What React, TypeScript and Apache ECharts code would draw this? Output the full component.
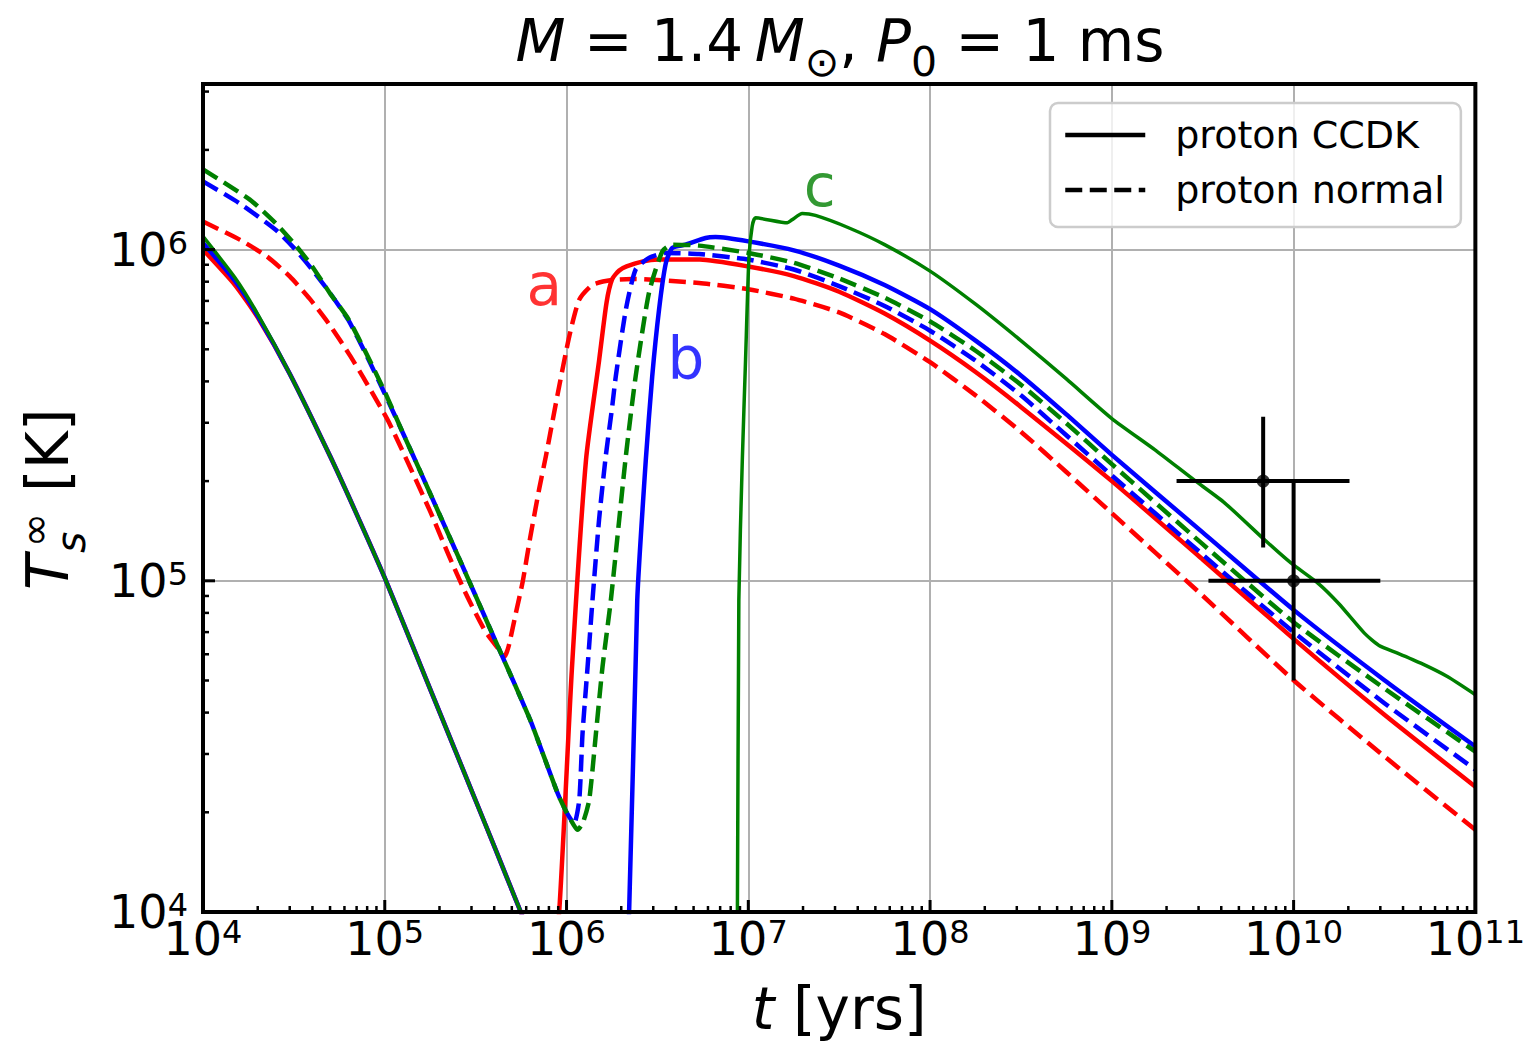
import React, { useEffect, useRef } from 'react';
import * as echarts from 'echarts';

const FONT = 'DejaVu Sans';

// ---------- data (t in years, surface temperature in K) ----------
const redSolidTime = [1e4, 1.5e4, 2e4, 3e4, 5e4, 7e4, 1e5, 1.5e5, 2e5, 3e5, 4e5, 5.6e5, 7e5, 8.3e5, 9.12e5, 1.07e6, 1.28e6, 1.51e6, 1.66e6, 1.78e6, 1.95e6, 2.14e6, 2.6e6, 3.2e6, 5.4e6, 1e7, 1.78e7, 3.16e7, 5.62e7, 1e8, 1.78e8, 3.16e8, 1e9, 3.16e9, 1e10, 3.16e10, 1e11];
const redSolidTemp = [1.0e6, 7.82e5, 6.24e5, 4.22e5, 2.38e5, 1.59e5, 1.02e5, 5.92e4, 4.02e4, 2.33e4, 1.58e4, 1.0e4, 7.4e3, 7.0e3, 1.01e4, 5.4e4, 2.32e5, 4.62e5, 6.92e5, 8.13e5, 8.65e5, 8.9e5, 9.2e5, 9.33e5, 9.33e5, 8.89e5, 8.32e5, 7.46e5, 6.41e5, 5.31e5, 4.27e5, 3.35e5, 2.0e5, 1.16e5, 6.68e4, 3.94e4, 2.39e4];

const redDashedTime = [1e4, 1.6e4, 2.24e4, 3.0e4, 3.86e4, 4.98e4, 6.4e4, 7.6e4, 1.06e5, 1.76e5, 2.24e5, 2.8e5, 3.55e5, 4.28e5, 4.55e5, 4.79e5, 5.25e5, 5.75e5, 6.31e5, 7.08e5, 7.7e5, 8.91e5, 1.035e6, 1.175e6, 1.39e6, 1.78e6, 2.3e6, 5.36e6, 1e7, 1.78e7, 3.16e7, 5.62e7, 1e8, 1.78e8, 3.16e8, 5.62e8, 1e9, 3.16e9, 1e10, 3.16e10, 1e11];
const redDashedTemp = [1.216e6, 1.07e6, 9.55e5, 8.3e5, 7.11e5, 5.92e5, 4.81e5, 4.12e5, 2.99e5, 1.64e5, 1.2e5, 9.12e4, 7.08e4, 6.17e4, 5.9e4, 6.31e4, 7.94e4, 1.0e5, 1.35e5, 1.9e5, 2.38e5, 3.63e5, 5.47e5, 7.06e5, 7.83e5, 8.09e5, 8.15e5, 7.93e5, 7.59e5, 7.11e5, 6.46e5, 5.56e5, 4.57e5, 3.63e5, 2.82e5, 2.13e5, 1.6e5, 9.02e4, 5.01e4, 2.95e4, 1.77e4];

const blueSolidTime = [1e4, 1.5e4, 2e4, 3e4, 5e4, 7e4, 1e5, 1.5e5, 2e5, 3e5, 4e5, 5.6e5, 7e5, 1e6, 2e6, 2.21e6, 2.45e6, 2.73e6, 2.96e6, 3.23e6, 3.52e6, 3.82e6, 4.52e6, 5.82e6, 6.6e6, 1e7, 1.78e7, 3.16e7, 5.62e7, 1e8, 1.78e8, 3.16e8, 5.62e8, 1e9, 3.16e9, 1e10, 3.16e10, 1e11];
const blueSolidTemp = [1.047e6, 8.04e5, 6.31e5, 4.22e5, 2.38e5, 1.59e5, 1.02e5, 5.92e4, 4.02e4, 2.33e4, 1.58e4, 1.0e4, 7.4e3, 5.0e3, 5.6e3, 1.01e4, 8.77e4, 2.32e5, 4.14e5, 6.61e5, 9.12e5, 1.012e6, 1.035e6, 1.084e6, 1.091e6, 1.059e6, 9.95e5, 8.95e5, 7.82e5, 6.61e5, 5.31e5, 4.17e5, 3.18e5, 2.4e5, 1.4e5, 8.17e4, 5.01e4, 3.16e4];

const blueDashedTime = [1e4, 1.585e4, 2.51e4, 3.16e4, 3.98e4, 5.01e4, 6.31e4, 7.94e4, 1e5, 1.26e5, 1.585e5, 2.51e5, 3.98e5, 6.31e5, 8.91e5, 1e6, 1.1e6, 1.175e6, 1.225e6, 1.306e6, 1.39e6, 1.51e6, 1.644e6, 1.778e6, 1.866e6, 2.12e6, 2.4e6, 2.84e6, 3.52e6, 5.36e6, 1e7, 1.78e7, 3.16e7, 5.62e7, 1e8, 1.78e8, 3.16e8, 5.62e8, 1e9, 3.16e9, 1e10, 3.16e10, 1e11];
const blueDashedTemp = [1.607e6, 1.38e6, 1.148e6, 1.012e6, 8.71e5, 7.38e5, 6.12e5, 4.79e5, 3.67e5, 2.79e5, 2.11e5, 1.2e5, 6.76e4, 3.8e4, 2.29e4, 2.0e4, 1.85e4, 2.18e4, 3.47e4, 5.51e4, 8.77e4, 1.53e5, 2.38e5, 3.31e5, 4.14e5, 6.59e5, 8.71e5, 9.44e5, 9.77e5, 9.7e5, 9.33e5, 8.71e5, 7.76e5, 6.76e5, 5.69e5, 4.62e5, 3.63e5, 2.75e5, 2.08e5, 1.2e5, 7.0e4, 4.27e4, 2.69e4];

const greenSolidTime = [1e4, 1.5e4, 2e4, 3e4, 5e4, 7e4, 1e5, 1.5e5, 2e5, 3e5, 4e5, 5.6e5, 7e5, 1e6, 5e6, 8.5e6, 8.71e6, 8.87e6, 9.27e6, 9.66e6, 1.007e7, 1.05e7, 1.096e7, 1.64e7, 1.74e7, 1.98e7, 2.34e7, 3.56e7, 5.62e7, 1e8, 1.78e8, 3.16e8, 5.62e8, 1e9, 1.72e9, 2.82e9, 4.17e9, 6.92e9, 9.7e9, 1.36e10, 1.78e10, 2.45e10, 2.95e10, 3.73e10, 5.01e10, 7.01e10, 1e11];
const greenSolidTemp = [1.096e6, 8.22e5, 6.38e5, 4.22e5, 2.38e5, 1.59e5, 1.02e5, 5.92e4, 4.02e4, 2.33e4, 1.58e4, 1.0e4, 7.4e3, 5.0e3, 4.0e3, 5.0e3, 1.01e4, 8.77e4, 2.32e5, 4.66e5, 9.33e5, 1.175e6, 1.247e6, 1.205e6, 1.23e6, 1.285e6, 1.268e6, 1.164e6, 1.035e6, 8.61e5, 6.84e5, 5.31e5, 4.07e5, 3.09e5, 2.49e5, 2.02e5, 1.72e5, 1.33e5, 1.13e5, 9.84e4, 8.51e4, 6.95e4, 6.38e4, 6.05e4, 5.64e4, 5.14e4, 4.53e4];

const greenDashedTime = [1e4, 1.81e4, 2.51e4, 3.27e4, 3.98e4, 4.98e4, 6.31e4, 7.94e4, 1e5, 1.26e5, 1.585e5, 2.51e5, 3.98e5, 6.31e5, 8.91e5, 1e6, 1.096e6, 1.15e6, 1.23e6, 1.333e6, 1.452e6, 1.578e6, 1.754e6, 2.12e6, 2.4e6, 2.84e6, 3.37e6, 3.82e6, 5.36e6, 1e7, 1.78e7, 3.16e7, 5.62e7, 1e8, 1.78e8, 3.16e8, 5.62e8, 1e9, 3.16e9, 1e10, 3.16e10, 1e11];
const greenDashedTemp = [1.746e6, 1.416e6, 1.202e6, 1.023e6, 8.91e5, 7.4e5, 6.17e5, 4.84e5, 3.72e5, 2.79e5, 2.11e5, 1.2e5, 6.76e4, 3.8e4, 2.29e4, 2.0e4, 1.83e4, 1.77e4, 1.86e4, 2.18e4, 3.47e4, 5.51e4, 8.77e4, 2.38e5, 4.14e5, 7.4e5, 9.89e5, 1.035e6, 1.028e6, 9.77e5, 9.12e5, 8.18e5, 7.16e5, 6.07e5, 4.95e5, 3.91e5, 2.99e5, 2.25e5, 1.29e5, 7.5e4, 4.73e4, 3.05e4];

// observations with error bars
const obsTime = [6.8e9, 1.0e10];
const obsTemp = [2.0e5, 1.0e5];
const obsTimeLow = [2.27e9, 3.4e9];
const obsTimeHigh = [2.03e10, 3.0e10];
const obsTempLow = [1.26e5, 5.0e4];
const obsTempHigh = [3.13e5, 2.0e5];

// curve labels
const noteLabels = ['a', 'b', 'c'];
const noteTime = [7.55e5, 4.54e6, 2.47e7];
const noteTemp = [7.83e5, 4.66e5, 1.56e6];
const noteColors = ['#ff0000', '#0000ff', '#008000'];

// axes
const X_MIN = 1e4;
const X_MAX = 1e11;
const Y_MIN = 1e4;
const Y_MAX = 3.1623e6;
const xDecades = [1e4, 1e5, 1e6, 1e7, 1e8, 1e9, 1e10, 1e11];
const yDecades = [1e4, 1e5, 1e6];
const minorMultipliers = [2, 3, 4, 5, 6, 7, 8, 9];

const legendSolid = 'proton CCDK';
const legendDashed = 'proton normal';

const DASH = [17, 7.5];

function pairs(xs: number[], ys: number[]) {
  return xs.map((x, i) => [x, ys[i]]);
}

function curve(name: string, xs: number[], ys: number[], color: string, dashed: boolean, width: number) {
  return {
    type: 'line',
    name,
    data: pairs(xs, ys),
    symbol: 'none',
    showSymbol: false,
    smooth: 0.2,
    clip: true,
    silent: true,
    legendHoverLink: false,
    z: 2,
    lineStyle: { color, width, type: dashed ? DASH : 'solid', cap: 'butt', join: 'round' },
    itemStyle: { color },
  };
}

function buildTicks() {
  const out: number[][] = [];
  xDecades.forEach((d) => {
    out.push([d, Y_MIN, 1]);
    if (d < X_MAX) minorMultipliers.forEach((m) => out.push([d * m, Y_MIN, 0]));
  });
  yDecades.forEach((d) => {
    out.push([X_MIN, d, 3]);
    minorMultipliers.forEach((m) => {
      if (d * m <= Y_MAX) out.push([X_MIN, d * m, 2]);
    });
  });
  return out;
}

function powLabel(v: number) {
  const e = Math.log10(v);
  const r = Math.round(e);
  return Math.abs(e - r) < 1e-6 ? `{b|10}{e|${r}}` : '';
}

const labelRich = {
  b: { fontSize: 46, lineHeight: 46, verticalAlign: 'bottom', fontFamily: FONT, color: '#000' },
  e: { fontSize: 32, lineHeight: 32, verticalAlign: 'top', padding: [0, 0, 21, 0], fontFamily: FONT, color: '#000' },
};

function buildOption() {
  const series: any[] = [
    curve('a CCDK', redSolidTime, redSolidTemp, '#ff0000', false, 4.5),
    curve('a normal', redDashedTime, redDashedTemp, '#ff0000', true, 4.5),
    curve('b CCDK', blueSolidTime, blueSolidTemp, '#0000ff', false, 4.5),
    curve('b normal', blueDashedTime, blueDashedTemp, '#0000ff', true, 4.5),
    curve('c CCDK', greenSolidTime, greenSolidTemp, '#008000', false, 3.5),
    curve('c normal', greenDashedTime, greenDashedTemp, '#008000', true, 4.5),
    {
      type: 'line', name: legendSolid, data: [], symbol: 'none', showSymbol: false,
      lineStyle: { color: '#000', width: 4.5, type: 'solid' }, itemStyle: { color: '#000' },
    },
    {
      type: 'line', name: legendDashed, data: [], symbol: 'none', showSymbol: false,
      lineStyle: { color: '#000', width: 4.5, type: DASH }, itemStyle: { color: '#000' },
    },
    {
      type: 'custom',
      name: 'errorbars',
      z: 4,
      silent: true,
      encode: { x: 0, y: 1 },
      data: obsTime.map((t, i) => [t, obsTemp[i], obsTimeLow[i], obsTimeHigh[i], obsTempLow[i], obsTempHigh[i]]),
      renderItem: (_p: any, api: any) => {
        const l = api.coord([api.value(2), api.value(1)]);
        const r = api.coord([api.value(3), api.value(1)]);
        const b = api.coord([api.value(0), api.value(4)]);
        const t = api.coord([api.value(0), api.value(5)]);
        return {
          type: 'group',
          children: [
            { type: 'line', shape: { x1: l[0], y1: l[1], x2: r[0], y2: r[1] }, style: { stroke: '#000', lineWidth: 4 } },
            { type: 'line', shape: { x1: b[0], y1: b[1], x2: t[0], y2: t[1] }, style: { stroke: '#000', lineWidth: 4 } },
          ],
        };
      },
    },
    {
      type: 'scatter',
      name: 'obs',
      z: 5,
      silent: true,
      symbol: 'circle',
      symbolSize: 13,
      itemStyle: { color: '#000' },
      data: pairs(obsTime, obsTemp),
    },
    {
      type: 'scatter',
      name: 'notes',
      z: 5,
      silent: true,
      symbolSize: 1,
      itemStyle: { color: 'rgba(0,0,0,0)' },
      data: noteLabels.map((n, i) => ({
        name: n,
        value: [noteTime[i], noteTemp[i]],
        label: { color: noteColors[i] },
      })),
      label: { show: true, position: 'inside', formatter: '{b}', fontSize: 58, fontFamily: FONT },
    },
    {
      type: 'custom',
      name: 'ticks',
      z: 6,
      silent: true,
      clip: false,
      encode: { x: 0, y: 1 },
      data: buildTicks(),
      renderItem: (_p: any, api: any) => {
        const p = api.coord([api.value(0), api.value(1)]);
        const kind = api.value(2);
        const major = kind === 1 || kind === 3;
        const len = major ? 12 : 6;
        const shape = kind < 2
          ? { x1: p[0], y1: p[1], x2: p[0], y2: p[1] - len }
          : { x1: p[0], y1: p[1], x2: p[0] + len, y2: p[1] };
        return { type: 'line', shape, style: { stroke: '#000', lineWidth: major ? 3 : 2.5 } };
      },
    },
  ];

  const tNorm = { fontSize: 58, height: 58, lineHeight: 58, verticalAlign: 'top', fontWeight: 'normal', fontFamily: FONT, color: '#000' };

  return {
    animation: false,
    backgroundColor: '#ffffff',
    textStyle: { fontFamily: FONT },
    title: {
      text: '{i|M}{n| = 1.4\u2009}{i|M}{s|\u2299}{n|, }{i|P}{s|0}{n| = 1 ms}',
      left: 840,
      top: 12,
      padding: 0,
      textAlign: 'center',
      textStyle: {
        fontFamily: FONT,
        fontWeight: 'normal',
        fontSize: 58,
        rich: {
          n: tNorm,
          i: { ...tNorm, fontStyle: 'italic' },
          s: { fontSize: 41, height: 41, lineHeight: 70, verticalAlign: 'bottom', fontWeight: 'normal', fontFamily: FONT, color: '#000' },
        },
      },
    },
    legend: {
      orient: 'vertical',
      left: 1050,
      top: 103,
      padding: [12, 16, 17, 13],
      itemGap: 15,
      itemWidth: 80,
      itemHeight: 40,
      selectedMode: false,
      backgroundColor: 'rgba(255,255,255,0.8)',
      borderColor: '#cccccc',
      borderWidth: 2.5,
      borderRadius: 8,
      itemStyle: { opacity: 0 },
      lineStyle: { width: 4.5 },
      textStyle: { fontSize: 38, lineHeight: 40, fontFamily: FONT, color: '#000', padding: [0, 0, 0, 25] },
      data: [legendSolid, legendDashed],
    },
    grid: {
      show: true,
      z: 5,
      left: 203,
      right: 50,
      top: 84,
      bottom: 131,
      borderColor: '#000',
      borderWidth: 4,
      backgroundColor: 'rgba(0,0,0,0)',
    },
    xAxis: {
      type: 'log',
      logBase: 10,
      min: X_MIN,
      max: X_MAX,
      axisLine: { show: false },
      axisTick: { show: false },
      splitLine: { show: true, lineStyle: { color: '#b0b0b0', width: 2 } },
      axisLabel: { margin: 4, formatter: powLabel, rich: labelRich },
      name: '{i|t} [yrs]',
      nameLocation: 'middle',
      nameGap: 68,
      nameTextStyle: {
        fontSize: 58, lineHeight: 58, fontFamily: FONT, color: '#000',
        rich: { i: { fontSize: 58, lineHeight: 58, fontStyle: 'italic', fontFamily: FONT, color: '#000' } },
      },
    },
    yAxis: {
      type: 'log',
      logBase: 10,
      min: Y_MIN,
      max: Y_MAX,
      axisLine: { show: false },
      axisTick: { show: false },
      splitLine: { show: true, lineStyle: { color: '#b0b0b0', width: 2 } },
      axisLabel: { margin: 15, formatter: powLabel, rich: labelRich },
    },
    graphic: [
      {
        type: 'group',
        x: 68,
        y: 592,
        rotation: Math.PI / 2,
        silent: true,
        children: [
          { type: 'text', x: 2, y: -20, style: { text: 'T', fontSize: 58, fontStyle: 'italic', fontFamily: FONT, fill: '#000', verticalAlign: 'middle', align: 'left' } },
          { type: 'text', x: 45, y: -33, style: { text: '\u221e', fontSize: 41, fontFamily: FONT, fill: '#000', verticalAlign: 'middle', align: 'left' } },
          { type: 'text', x: 39, y: 3, style: { text: 's', fontSize: 41, fontStyle: 'italic', fontFamily: FONT, fill: '#000', verticalAlign: 'middle', align: 'left' } },
          { type: 'text', x: 100, y: -20, style: { text: '[K]', fontSize: 58, fontFamily: FONT, fill: '#000', verticalAlign: 'middle', align: 'left' } },
        ],
      },
    ],
    series,
  };
}

export default function App() {
  const ref = useRef<HTMLDivElement>(null);
  useEffect(() => {
    if (!ref.current) return;
    const chart = echarts.init(ref.current, null, { renderer: 'svg' });
    chart.setOption(buildOption() as any);
    return () => chart.dispose();
  }, []);
  return (
    <div
      ref={ref}
      style={{ position: 'fixed', left: 0, top: 0, width: 1528, height: 1043, background: '#ffffff' }}
    />
  );
}
